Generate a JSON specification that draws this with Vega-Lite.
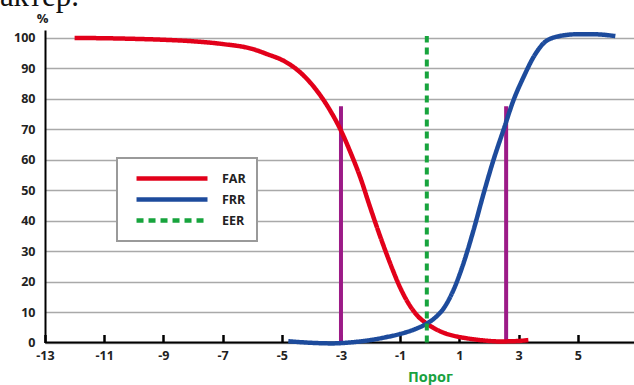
{
  "$schema": "https://vega.github.io/schema/vega-lite/v6.json",
  "autosize": "none",
  "width": 589,
  "height": 312.5,
  "padding": {"left": 45, "top": 30, "right": 0, "bottom": 42.5},
  "background": "white",
  "title": {
    "text": "характер.",
    "anchor": "start",
    "frame": "group",
    "align": "right",
    "baseline": "alphabetic",
    "dx": 34,
    "dy": 25,
    "offset": 0,
    "font": "Liberation Serif",
    "fontSize": 31,
    "fontWeight": "normal",
    "color": "#111"
  },
  "config": {
    "view": {"stroke": null},
    "axis": {
      "labelFont": "Open Sans",
      "labelFontWeight": "bold",
      "labelFontSize": 12.5,
      "labelColor": "#222",
      "titleFont": "Open Sans",
      "domainColor": "#000",
      "domainWidth": 2
    },
    "legend": {
      "orient": "none",
      "legendX": 72,
      "legendY": 128,
      "direction": "vertical",
      "strokeColor": "#9a9a9a",
      "strokeWidth": 2,
      "fillColor": "white",
      "padding": 11,
      "symbolType": "M-0.14,0H10",
      "symbolSize": 196,
      "symbolStrokeWidth": 4.5,
      "labelFont": "Open Sans",
      "labelFontWeight": "bold",
      "labelFontSize": 12.5,
      "labelColor": "#222",
      "labelOffset": 75,
      "rowPadding": 2,
      "title": null
    }
  },
  "datasets": {
    "curves": [
      {"series": "FAR", "x": -12, "y": 99.9},
      {"series": "FAR", "x": -11, "y": 99.8},
      {"series": "FAR", "x": -10, "y": 99.6},
      {"series": "FAR", "x": -9, "y": 99.3},
      {"series": "FAR", "x": -8, "y": 98.8},
      {"series": "FAR", "x": -7, "y": 97.9},
      {"series": "FAR", "x": -6, "y": 96.3},
      {"series": "FAR", "x": -5.5, "y": 94.6},
      {"series": "FAR", "x": -4.9, "y": 92.2},
      {"series": "FAR", "x": -4.4, "y": 88.8},
      {"series": "FAR", "x": -3.8, "y": 82.4},
      {"series": "FAR", "x": -3.36, "y": 76.0},
      {"series": "FAR", "x": -3.0, "y": 69.5},
      {"series": "FAR", "x": -2.69, "y": 62.6},
      {"series": "FAR", "x": -2.35, "y": 54.2},
      {"series": "FAR", "x": -2.02, "y": 44.5},
      {"series": "FAR", "x": -1.68, "y": 34.9},
      {"series": "FAR", "x": -1.34, "y": 26},
      {"series": "FAR", "x": -1.0, "y": 18.0},
      {"series": "FAR", "x": -0.66, "y": 11.9},
      {"series": "FAR", "x": -0.4, "y": 8.6},
      {"series": "FAR", "x": -0.1, "y": 6.2},
      {"series": "FAR", "x": 0.47, "y": 3.2},
      {"series": "FAR", "x": 0.9, "y": 2.0},
      {"series": "FAR", "x": 1.24, "y": 1.4},
      {"series": "FAR", "x": 1.8, "y": 0.7},
      {"series": "FAR", "x": 2.37, "y": 0.35},
      {"series": "FAR", "x": 2.9, "y": 0.45},
      {"series": "FAR", "x": 3.33, "y": 0.8},
      {"series": "FRR", "x": -4.78, "y": 0.4},
      {"series": "FRR", "x": -4, "y": -0.1},
      {"series": "FRR", "x": -3.3, "y": -0.3},
      {"series": "FRR", "x": -3, "y": -0.2},
      {"series": "FRR", "x": -2.5, "y": 0.2},
      {"series": "FRR", "x": -2, "y": 0.8},
      {"series": "FRR", "x": -1.5, "y": 1.7},
      {"series": "FRR", "x": -1, "y": 2.8},
      {"series": "FRR", "x": -0.44, "y": 4.6},
      {"series": "FRR", "x": -0.1, "y": 6.2},
      {"series": "FRR", "x": 0.2, "y": 8.3},
      {"series": "FRR", "x": 0.47, "y": 11.2},
      {"series": "FRR", "x": 0.8, "y": 17.2},
      {"series": "FRR", "x": 1.14, "y": 26},
      {"series": "FRR", "x": 1.48, "y": 36.9},
      {"series": "FRR", "x": 1.82, "y": 48.9},
      {"series": "FRR", "x": 2.15, "y": 59.8},
      {"series": "FRR", "x": 2.49, "y": 69.7},
      {"series": "FRR", "x": 2.83, "y": 79.5},
      {"series": "FRR", "x": 3.17, "y": 87.1},
      {"series": "FRR", "x": 3.51, "y": 93.7},
      {"series": "FRR", "x": 3.84, "y": 98.1},
      {"series": "FRR", "x": 4.29, "y": 100.3},
      {"series": "FRR", "x": 4.97, "y": 101.1},
      {"series": "FRR", "x": 5.54, "y": 101.1},
      {"series": "FRR", "x": 6.27, "y": 100.5}
    ],
    "eer": [{"series": "EER", "x": -0.1, "y": 0, "y2": 100.5}],
    "marks": [
      {"x": -3, "y": 0, "y2": 77.5},
      {"x": 2.58, "y": 0, "y2": 77.5}
    ],
    "base": [{"y": 0}]
  },
  "encoding": {
    "x": {
      "field": "x",
      "type": "quantitative",
      "scale": {"domain": [-13, 6.9], "nice": false, "zero": false},
      "axis": {
        "values": [-13, -11, -9, -7, -5, -3, -1, 1, 3, 5],
        "labelExpr": "'' + datum.value",
        "labelFlush": false,
        "offset": -8,
        "domain": false,
        "grid": false,
        "ticks": true,
        "tickColor": "#000",
        "tickWidth": 2.5,
        "tickSize": 8,
        "labelPadding": 7,
        "title": "Порог",
        "titleColor": "#18a23f",
        "titleFontSize": 14.5,
        "titleFontWeight": "bold",
        "titleX": 385,
        "titleY": 43,
        "titleBaseline": "middle",
        "titleAlign": "center",
        "titleAnchor": null
      }
    },
    "y": {
      "field": "y",
      "type": "quantitative",
      "scale": {"domain": [0, 102.5], "nice": false},
      "axis": {
        "values": [0, 10, 20, 30, 40, 50, 60, 70, 80, 90, 100],
        "grid": true,
        "gridColor": "#a9a9a9",
        "gridWidth": 1.6,
        "ticks": false,
        "labelPadding": 10,
        "title": "%",
        "titleAngle": 0,
        "titleX": -3,
        "titleY": -12,
        "titleAlign": "center",
        "titleBaseline": "middle",
        "titleFontSize": 13,
        "titleFontWeight": "bold",
        "titleColor": "#222"
      }
    }
  },
  "layer": [
    {
      "data": {"name": "base"},
      "mark": {"type": "rule", "color": "#000", "strokeWidth": 2},
      "encoding": {"x": null, "y": {"field": "y", "type": "quantitative"}}
    },
    {
      "data": {"name": "marks"},
      "mark": {"type": "rule", "color": "#9c1a87", "strokeWidth": 4},
      "encoding": {"y2": {"field": "y2"}}
    },
    {
      "data": {"name": "curves"},
      "mark": {"type": "line", "strokeWidth": 4.5, "interpolate": "monotone"},
      "encoding": {
        "color": {
          "field": "series",
          "type": "nominal",
          "scale": {"domain": ["FAR", "FRR", "EER"], "range": ["#e2001a", "#1d4b9c", "#17a43d"]}
        },
        "strokeDash": {
          "field": "series",
          "type": "nominal",
          "scale": {"domain": ["FAR", "FRR", "EER"], "range": [[1, 0], [1, 0], [7, 5]]}
        }
      }
    },
    {
      "data": {"name": "eer"},
      "mark": {"type": "rule", "strokeWidth": 4},
      "encoding": {
        "y2": {"field": "y2"},
        "color": {"field": "series", "type": "nominal"},
        "strokeDash": {"field": "series", "type": "nominal"}
      }
    }
  ]
}
